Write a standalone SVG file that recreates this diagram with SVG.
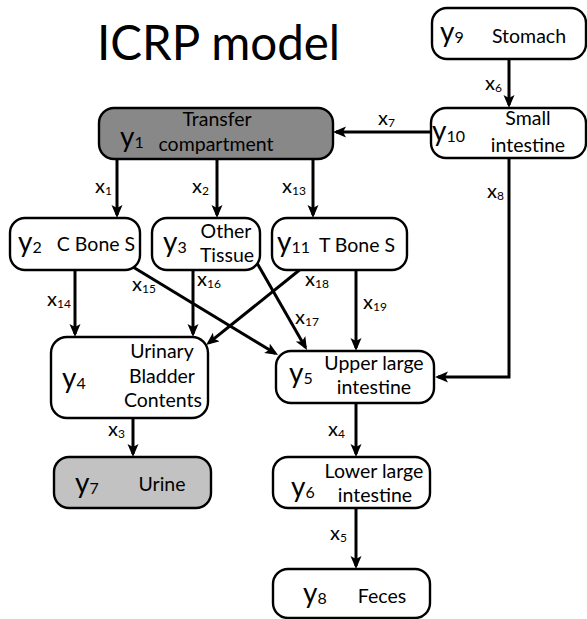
<svg xmlns="http://www.w3.org/2000/svg" width="587" height="619" viewBox="0 0 587 619">
<style>
text{font-family:Lato,"Open Sans","Liberation Sans",sans-serif;fill:#000}
.box{fill:#fff;stroke:#000;stroke-width:2.4}
.dark{fill:#888}
.light{fill:#c2c2c2}
.yl{font-size:28px}
.ys{font-size:16px}
.t{font-size:19.5px;text-anchor:middle}
.xl{font-size:20px}
.xs{font-size:12px}
.c{fill:none;stroke:#000;stroke-width:3}
.title{font-size:47.5px}
</style>
<defs>
<marker id="ah" markerUnits="userSpaceOnUse" markerWidth="14" markerHeight="12" refX="10" refY="5.5" orient="auto">
<path d="M0,0 L13,5.5 L0,11 L3,5.5 z" fill="#000"/>
</marker>
</defs>
<text class="title" x="97" y="60">ICRP model</text>
<g id="connectors">
<line class="c" x1="509" y1="59" x2="509" y2="105" marker-end="url(#ah)"/>
<line class="c" x1="431" y1="132" x2="336" y2="132" marker-end="url(#ah)"/>
<polyline class="c" points="509,158 509,377 438,377" marker-end="url(#ah)"/>
<line class="c" x1="117" y1="159" x2="117" y2="215" marker-end="url(#ah)"/>
<line class="c" x1="217" y1="159" x2="217" y2="215" marker-end="url(#ah)"/>
<line class="c" x1="313" y1="159" x2="313" y2="215" marker-end="url(#ah)"/>
<line class="c" x1="75" y1="270" x2="75" y2="334" marker-end="url(#ah)"/>
<line class="c" x1="193" y1="270" x2="193" y2="334" marker-end="url(#ah)"/>
<line class="c" x1="133" y1="267" x2="275.5" y2="353.5" marker-end="url(#ah)"/>
<line class="c" x1="257" y1="263" x2="305.5" y2="347.5" marker-end="url(#ah)"/>
<line class="c" x1="302" y1="268" x2="208.5" y2="343.2" marker-end="url(#ah)"/>
<line class="c" x1="356" y1="270" x2="356" y2="348" marker-end="url(#ah)"/>
<line class="c" x1="133" y1="418" x2="133" y2="454" marker-end="url(#ah)"/>
<line class="c" x1="356" y1="403" x2="356" y2="454" marker-end="url(#ah)"/>
<line class="c" x1="356" y1="508" x2="356" y2="566" marker-end="url(#ah)"/>
<text class="xl" x="485" y="90">x<tspan class="xs" dy="2">6</tspan></text>
<text class="xl" x="378" y="125">x<tspan class="xs" dy="2">7</tspan></text>
<text class="xl" x="487" y="198">x<tspan class="xs" dy="2">8</tspan></text>
<text class="xl" x="95" y="193">x<tspan class="xs" dy="2">1</tspan></text>
<text class="xl" x="192" y="193">x<tspan class="xs" dy="2">2</tspan></text>
<text class="xl" x="282" y="193">x<tspan class="xs" dy="2">13</tspan></text>
<text class="xl" x="47" y="306">x<tspan class="xs" dy="2">14</tspan></text>
<text class="xl" x="132" y="291">x<tspan class="xs" dy="2">15</tspan></text>
<text class="xl" x="197" y="286">x<tspan class="xs" dy="2">16</tspan></text>
<text class="xl" x="305" y="286">x<tspan class="xs" dy="2">18</tspan></text>
<text class="xl" x="363" y="309">x<tspan class="xs" dy="2">19</tspan></text>
<text class="xl" x="295" y="324">x<tspan class="xs" dy="2">17</tspan></text>
<text class="xl" x="108" y="436">x<tspan class="xs" dy="2">3</tspan></text>
<text class="xl" x="328" y="436">x<tspan class="xs" dy="2">4</tspan></text>
<text class="xl" x="330" y="540">x<tspan class="xs" dy="2">5</tspan></text>
</g>
<g id="y9">
<rect class="box" x="432" y="8" width="154" height="51" rx="15"/>
<text class="yl" x="440" y="42">y<tspan class="ys" dy="1">9</tspan></text>
<text class="t" x="529" y="43">Stomach</text>
</g>
<g id="y10">
<rect class="box" x="431" y="108" width="155" height="50" rx="15"/>
<text class="yl" x="432" y="141">y<tspan class="ys" dy="1">10</tspan></text>
<text class="t" x="528" y="125">Small</text>
<text class="t" x="528" y="152">intestine</text>
</g>
<g id="y1">
<rect class="box dark" x="99" y="108" width="234" height="51" rx="15"/>
<text class="yl" x="120" y="147">y<tspan class="ys" dy="1">1</tspan></text>
<text class="t" x="217" y="126">Transfer</text>
<text class="t" x="216" y="151">compartment</text>
</g>
<g id="y2">
<rect class="box" x="10" y="218" width="130" height="52" rx="15"/>
<text class="yl" x="18" y="252">y<tspan class="ys" dy="1">2</tspan></text>
<text class="t" x="96" y="251">C Bone S</text>
</g>
<g id="y3">
<rect class="box" x="152" y="218" width="108" height="52" rx="15"/>
<text class="yl" x="163" y="252">y<tspan class="ys" dy="1">3</tspan></text>
<text class="t" x="226" y="238">Other</text>
<text class="t" x="227" y="262">Tissue</text>
</g>
<g id="y11">
<rect class="box" x="272" y="218" width="135" height="52" rx="15"/>
<text class="yl" x="277" y="252">y<tspan class="ys" dy="1">11</tspan></text>
<text class="t" x="357" y="252">T Bone S</text>
</g>
<g id="y4">
<rect class="box" x="51" y="337" width="157" height="81" rx="16"/>
<text class="yl" x="62" y="388">y<tspan class="ys" dy="1">4</tspan></text>
<text class="t" x="162" y="358">Urinary</text>
<text class="t" x="162" y="383">Bladder</text>
<text class="t" x="163" y="407">Contents</text>
</g>
<g id="y7">
<rect class="box light" x="54" y="457" width="157" height="51" rx="15"/>
<text class="yl" x="75" y="493">y<tspan class="ys" dy="1">7</tspan></text>
<text class="t" x="162" y="491">Urine</text>
</g>
<g id="y5">
<rect class="box" x="276" y="351" width="158" height="52" rx="15"/>
<text class="yl" x="289" y="383">y<tspan class="ys" dy="1">5</tspan></text>
<text class="t" x="374" y="370">Upper large</text>
<text class="t" x="374" y="394">intestine</text>
</g>
<g id="y6">
<rect class="box" x="273" y="457" width="157" height="51" rx="15"/>
<text class="yl" x="291" y="497">y<tspan class="ys" dy="1">6</tspan></text>
<text class="t" x="374" y="478">Lower large</text>
<text class="t" x="375" y="502">intestine</text>
</g>
<g id="y8">
<rect class="box" x="273" y="569" width="157" height="49" rx="15"/>
<text class="yl" x="303" y="603">y<tspan class="ys" dy="1">8</tspan></text>
<text class="t" x="382" y="603">Feces</text>
</g>
</svg>
